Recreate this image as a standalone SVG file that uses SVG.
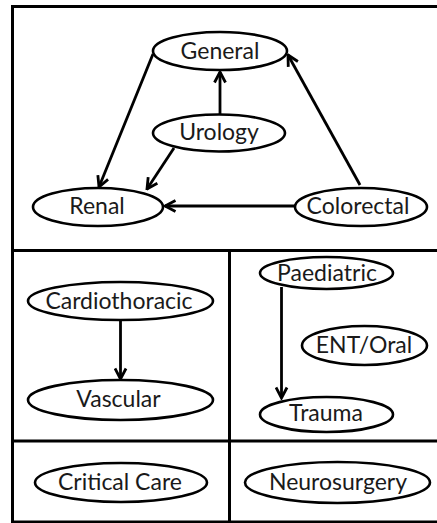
<svg xmlns="http://www.w3.org/2000/svg" width="437" height="523" viewBox="0 0 437 523">
<defs>
<marker id="arr" viewBox="0 0 14 14" refX="12.5" refY="7" markerWidth="14" markerHeight="14" markerUnits="userSpaceOnUse" orient="auto">
<path d="M2,1.5 L12.5,7 L2,12.5" fill="none" stroke="#000" stroke-width="2.8" stroke-linejoin="miter"/>
</marker>
</defs>
<style>
.frame{fill:none;stroke:#000;stroke-width:3}
.node ellipse{fill:#fff;stroke:#000;stroke-width:2.6}
.node text{font-family:Lato,"Open Sans",sans-serif;font-size:23px;fill:#1a1a1a;text-anchor:middle}
.edge{fill:none;stroke:#000;stroke-width:2.8;marker-end:url(#arr)}
</style>
<rect width="437" height="523" fill="#fff"/>
<g id="frame">
<rect class="frame" x="12.5" y="6.5" width="432" height="515.5"/>
<line class="frame" x1="12.5" y1="250.5" x2="437" y2="250.5"/>
<line class="frame" x1="12.5" y1="441" x2="437" y2="441"/>
<line class="frame" x1="229.5" y1="250.5" x2="229.5" y2="523"/>
</g>
<g id="connectors">
<line class="edge" x1="153" y1="54" x2="99" y2="187"/>
<line class="edge" x1="174" y1="148" x2="147" y2="189"/>
<line class="edge" x1="220" y1="114" x2="220" y2="72"/>
<line class="edge" x1="360" y1="185" x2="288" y2="55"/>
<line class="edge" x1="295" y1="206" x2="165" y2="206"/>
<line class="edge" x1="120.5" y1="320" x2="120.5" y2="379"/>
<line class="edge" x1="281.5" y1="287" x2="281.5" y2="398"/>
</g>
<g id="general" class="node"><ellipse cx="220" cy="51" rx="67" ry="19"/><text x="220" y="59">General</text></g>
<g id="urology" class="node"><ellipse cx="219" cy="133" rx="66" ry="18.5"/><text x="219" y="140">Urology</text></g>
<g id="renal" class="node"><ellipse cx="98" cy="207" rx="65" ry="19"/><text x="97" y="214">Renal</text></g>
<g id="colorectal" class="node"><ellipse cx="361" cy="207" rx="66" ry="19"/><text x="358" y="214">Colorectal</text></g>
<g id="cardiothoracic" class="node"><ellipse cx="120.5" cy="301" rx="92.5" ry="19"/><text x="119" y="309">Cardiothoracic</text></g>
<g id="vascular" class="node"><ellipse cx="120.5" cy="400" rx="92.5" ry="20"/><text x="118.5" y="407">Vascular</text></g>
<g id="paediatric" class="node"><ellipse cx="326.5" cy="273" rx="66.5" ry="16"/><text x="327" y="281">Paediatric</text></g>
<g id="entoral" class="node"><ellipse cx="364.5" cy="345.5" rx="62.5" ry="19.5"/><text x="364" y="353">ENT/Oral</text></g>
<g id="trauma" class="node"><ellipse cx="326.5" cy="414.5" rx="66.5" ry="17.5"/><text x="326" y="421">Trauma</text></g>
<g id="criticalcare" class="node"><ellipse cx="121" cy="482.5" rx="86" ry="19.5"/><text x="120" y="490">Critical Care</text></g>
<g id="neurosurgery" class="node"><ellipse cx="337.5" cy="482.5" rx="92.5" ry="20.5"/><text x="338" y="490">Neurosurgery</text></g>
</svg>
